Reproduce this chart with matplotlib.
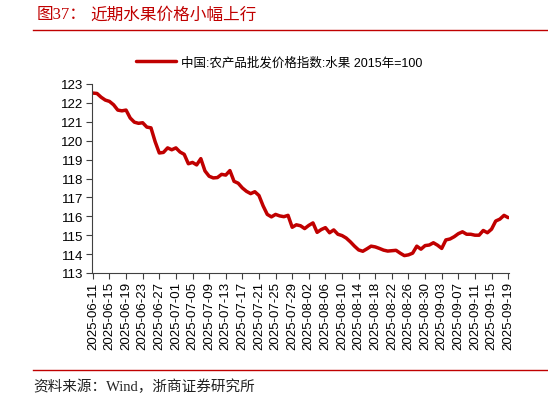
import matplotlib
matplotlib.use("Agg")
import matplotlib.pyplot as plt
from matplotlib.lines import Line2D
import numpy as np
import pandas as pd

# data: daily index, 2025-06-11 .. 2025-09-19
start_date = "2025-06-11"
end_date = "2025-09-19"
fruit_index = [
    122.52, 122.50, 122.30, 122.15, 122.08, 121.90, 121.62, 121.58, 121.62, 121.20,
    120.98, 120.92, 120.95, 120.72, 120.68, 119.95, 119.35, 119.38, 119.62, 119.52,
    119.62, 119.40, 119.28, 118.78, 118.85, 118.72, 119.05, 118.40, 118.12, 118.03,
    118.05, 118.22, 118.18, 118.42, 117.85, 117.75, 117.50, 117.32, 117.20, 117.30,
    117.10, 116.55, 116.10, 115.97, 116.10, 116.02, 115.98, 116.05, 115.42, 115.55,
    115.50, 115.35, 115.52, 115.65, 115.15, 115.30, 115.40, 115.13, 115.28, 115.05,
    114.98, 114.85, 114.65, 114.42, 114.22, 114.15, 114.28, 114.42, 114.38, 114.30,
    114.21, 114.16, 114.18, 114.20, 114.05, 113.92, 113.96, 114.05, 114.42, 114.26,
    114.45, 114.48, 114.60, 114.47, 114.30, 114.75, 114.80, 114.92, 115.08, 115.18,
    115.05, 115.05, 115.00, 115.00, 115.25, 115.13, 115.32, 115.75, 115.85, 116.05,
    115.93,
]
y_ticks = list(range(113, 124))
series_label = "中国:农产品批发价格指数:水果 2015年=100"
fig_no = "图37："
title = "近期水果价格小幅上行"
source = "资料来源：Wind，浙商证券研究所"

red = "#C00000"
dates = pd.date_range(start_date, end_date)
x = np.arange(len(dates))

fig = plt.figure(figsize=(5.48, 4.02), dpi=100)
ax = fig.add_axes([92 / 548, 1 - 274 / 402, (509 - 92) / 548, (274 - 85) / 402])

line, = ax.plot(x, fruit_index, color=red, lw=2.5, solid_capstyle="round",
                solid_joinstyle="round", label=series_label)

ax.set_xlim(-0.2, len(x) - 0.8)
ax.set_ylim(113, 123)
ax.set_yticks(y_ticks)
ax.set_yticklabels([str(v) for v in y_ticks], fontsize=9.5, family="Liberation Sans")
ax.set_xticks(x[::4])
ax.set_xticklabels([d.strftime("%Y-%m-%d") for d in dates[::4]], rotation=90,
                   fontsize=9.5, family="Liberation Sans")
for s in ["top", "right"]:
    ax.spines[s].set_visible(False)
for s in ["left", "bottom"]:
    ax.spines[s].set_color("#404040")
    ax.spines[s].set_linewidth(0.8)
ax.tick_params(direction="out", length=4, width=0.8, color="#404040", pad=2)

fig.legend(handles=[line], loc="center", bbox_to_anchor=(0.51, 1 - 63 / 402),
           frameon=False, handlelength=3.2, handletextpad=0.4,
           prop={"family": ["Liberation Sans", "Noto Sans CJK SC"], "size": 9})

# title and rules
fig.text(37 / 548, 1 - 15 / 402, fig_no, color=red, fontsize=12,
         family=["Liberation Serif", "Noto Sans CJK SC"], va="center")
fig.text(90 / 548, 1 - 15 / 402, title, color=red, fontsize=12,
         family="Noto Sans CJK SC", va="center")
fig.add_artist(Line2D([33 / 548, 1], [1 - 31 / 402] * 2, transform=fig.transFigure,
                      color=red, lw=1))
fig.add_artist(Line2D([33 / 548, 1], [1 - 371 / 402] * 2, transform=fig.transFigure,
                      color=red, lw=1))
fig.text(33 / 548, 1 - 387 / 402, source, fontsize=10.5, color="#222222",
         family=["Liberation Serif", "Noto Sans CJK SC"], va="center")

fig.savefig("out.png", dpi=100)
